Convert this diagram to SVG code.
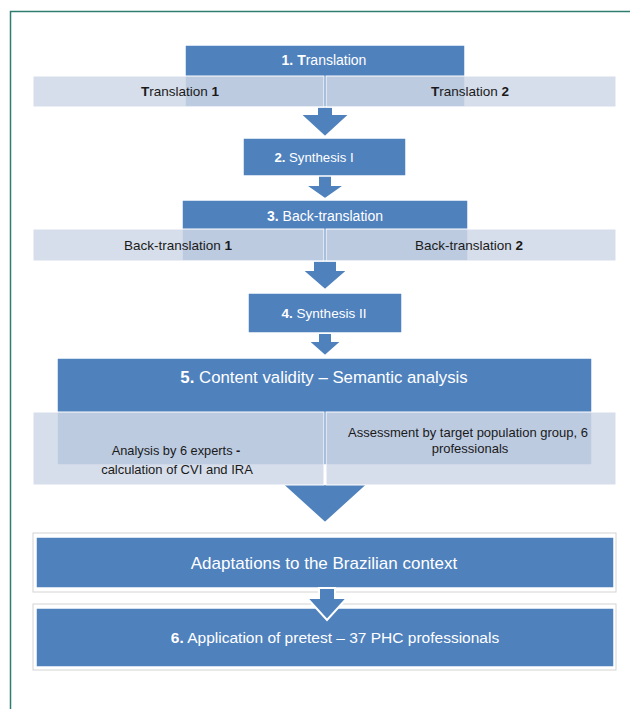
<svg xmlns="http://www.w3.org/2000/svg" width="630" height="709" viewBox="0 0 630 709">
<style>
.bx{fill:#4f81bd;stroke:#ffffff;stroke-width:1.5}
.glow{fill:#ffffff;stroke:#d4d4d4;stroke-width:1}
.band{fill:#d0d8e8;fill-opacity:0.85;stroke:#ffffff;stroke-width:1}
.arr{fill:#4f81bd;stroke:#ffffff;stroke-width:2;stroke-linejoin:miter}
.w{font-family:"Liberation Sans",Arial,sans-serif;fill:#ffffff;text-anchor:middle}
.k{font-family:"Liberation Sans",Arial,sans-serif;fill:#1a1a1a;text-anchor:middle}
.b{font-weight:bold}
</style>
<rect x="0" y="0" width="630" height="709" fill="#ffffff"/>
<path d="M10.5,709 V11.5 H630" fill="none" stroke="#2e7d6f" stroke-width="1.5"/>

<g id="connectors">
<polygon class="arr" points="317,105 333,105 333,114 350,114 325,137 300,114 317,114"/>
<polygon class="arr" points="318,175 332,175 332,185 345,185 325,199 305,185 318,185"/>
<polygon class="arr" points="313,260 337,260 337,270 348,270 325,290 302,270 313,270"/>
<polygon class="arr" points="318,333 332,333 332,341 342,341 325,356 308,341 318,341"/>
<polygon class="arr" points="282,484 368,484 325,523"/>
</g>

<g id="node1">
<rect class="bx" x="185" y="45" width="280" height="62"/>
<text class="w" x="324" y="65" font-size="14"><tspan class="b">1. T</tspan>ranslation</text>
</g>
<g id="node1a">
<rect class="band" x="33" y="76" width="291" height="31"/>
<text class="k" x="180" y="96" font-size="13.5"><tspan class="b">T</tspan>ranslation <tspan class="b">1</tspan></text>
</g>
<g id="node1b">
<rect class="band" x="326" y="76" width="290" height="31"/>
<text class="k" x="470" y="96" font-size="13.5"><tspan class="b">T</tspan>ranslation <tspan class="b">2</tspan></text>
</g>

<g id="node2">
<rect class="bx" x="243" y="138" width="163" height="38"/>
<text class="w" x="314" y="162" font-size="13.2"><tspan class="b">2.</tspan> Synthesis I</text>
</g>

<g id="node3">
<rect class="bx" x="182" y="200" width="286" height="61"/>
<text class="w" x="325" y="221" font-size="14"><tspan class="b">3.</tspan> Back-translation</text>
</g>
<g id="node3a">
<rect class="band" x="33" y="229" width="291" height="32"/>
<text class="k" x="178" y="250" font-size="13.5">Back-translation <tspan class="b">1</tspan></text>
</g>
<g id="node3b">
<rect class="band" x="326" y="229" width="290" height="32"/>
<text class="k" x="469" y="250" font-size="13.5">Back-translation <tspan class="b">2</tspan></text>
</g>

<g id="node4">
<rect class="bx" x="248" y="293" width="154" height="40"/>
<text class="w" x="324" y="318" font-size="13.5"><tspan class="b">4.</tspan> Synthesis II</text>
</g>

<g id="node5">
<rect class="bx" x="57" y="358" width="535" height="107"/>
<text class="w" x="324" y="383" font-size="16.8"><tspan class="b">5.</tspan> Content validity – Semantic analysis</text>
</g>
<g id="node5a">
<rect class="band" x="33" y="412" width="291" height="73"/>
<text class="k" x="176" y="455" font-size="12.8">Analysis by 6 experts <tspan class="b">-</tspan></text>
<text class="k" x="177" y="474" font-size="13">calculation of CVI and IRA</text>
</g>
<g id="node5b">
<rect class="band" x="326" y="412" width="290" height="73"/>
<text class="k" x="468" y="437" font-size="13">Assessment by target population group, 6</text>
<text class="k" x="470" y="453" font-size="13">professionals</text>
</g>

<g id="node_adapt">
<rect class="glow" x="33" y="533" width="583" height="59"/>
<rect class="bx" x="36" y="537" width="578" height="51"/>
<text class="w" x="324" y="569" font-size="17">Adaptations to the Brazilian context</text>
</g>

<g id="node6">
<rect class="glow" x="33" y="604" width="583" height="66"/>
<rect class="bx" x="36" y="608" width="578" height="59"/>
<text class="w" x="335" y="643" font-size="15.5"><tspan class="b">6.</tspan> Application of pretest – 37 PHC professionals</text>
</g>

<g id="connector6">
<polygon class="arr" points="319,588 335,588 335,598 347,598 327,620 307,598 319,598"/>
</g>
</svg>
